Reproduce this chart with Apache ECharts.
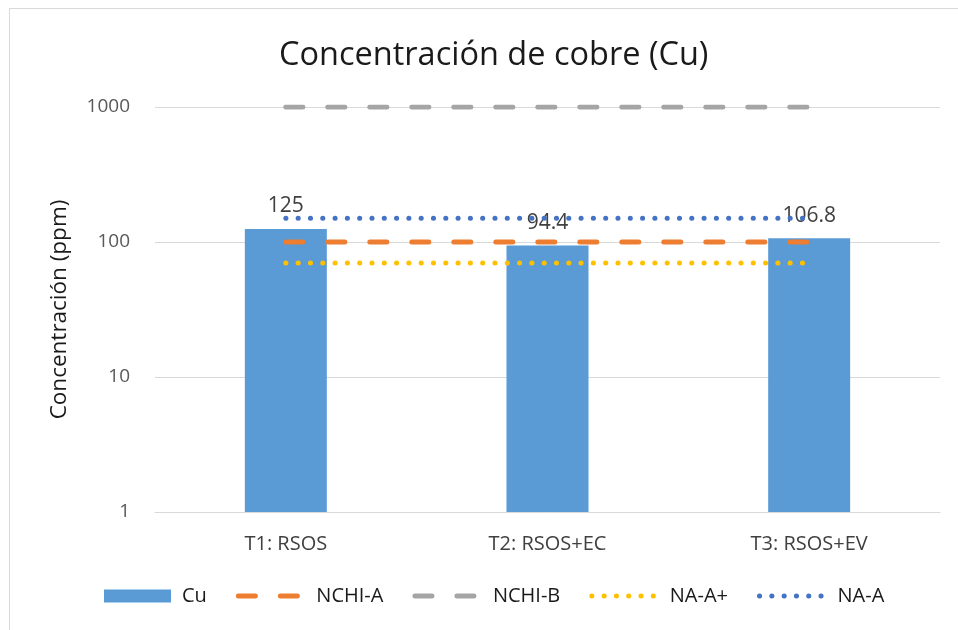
<!DOCTYPE html>
<html>
<head>
<meta charset="utf-8">
<script src="https://cdn.jsdelivr.net/npm/echarts@6/dist/echarts.min.js"></script>
<style>
  html, body { margin: 0; padding: 0; background: #fff; }
  #frame { position: absolute; left: 9px; top: 8px; width: 960px; height: 640px; border: 1px solid #d9d9d9; box-sizing: border-box; }
  #chart { position: absolute; left: 0; top: 0; width: 958px; height: 630px; }
</style>
</head>
<body>
<div id="frame"></div>
<div id="chart"></div>
<script>
// datos del grafico
var categorias = ['T1: RSOS', 'T2: RSOS+EC', 'T3: RSOS+EV']
var cobre = [125, 94.4, 106.8]
var nchiA = [100, 100, 100]
var nchiB = [1000, 1000, 1000]
var naAmas = [70, 70, 70]
var naA = [150, 150, 150]
var ticksY = [1, 10, 100, 1000]

var fuente = '"Open Sans", "Noto Sans", sans-serif'
// en la leyenda solo queremos la linea, sin el circulo
var sinSimbolo = { opacity: 0 }

var chart = echarts.init(document.getElementById('chart'))
chart.setOption({
  animation: false,
  title: {
    text: 'Concentración de cobre (Cu)',
    left: 274,
    top: 34,
    textStyle: { fontFamily: fuente, fontSize: 32.5, fontWeight: 'normal', color: '#1a1a1a' }
  },
  legend: {
    bottom: 19,
    left: 99,
    itemWidth: 67,
    itemHeight: 13,
    itemGap: 29,
    lineStyle: { width: 5 },
    textStyle: { fontFamily: fuente, fontSize: 20, color: '#1a1a1a', padding: [0, 0, 0, 6] },
    data: [
      { name: 'Cu', icon: 'rect' },
      { name: 'NCHI-A', itemStyle: sinSimbolo },
      { name: 'NCHI-B', itemStyle: sinSimbolo },
      { name: 'NA-A+', itemStyle: sinSimbolo },
      { name: 'NA-A', itemStyle: sinSimbolo }
    ]
  },
  grid: { left: 155, right: 18, top: 107, bottom: 118 },
  xAxis: {
    type: 'category',
    data: categorias,
    axisLine: { lineStyle: { color: '#d9d9d9', width: 1 } },
    axisTick: { show: false },
    axisLabel: { fontFamily: fuente, fontSize: 20, color: '#404040', margin: 22 }
  },
  yAxis: {
    type: 'log',
    logBase: 10,
    min: ticksY[0],
    max: ticksY[ticksY.length - 1],
    name: 'Concentración (ppm)',
    nameLocation: 'middle',
    nameGap: 84,
    nameTextStyle: { fontFamily: fuente, fontSize: 22.5, color: '#1a1a1a' },
    axisLine: { show: false },
    axisTick: { show: false },
    splitLine: { lineStyle: { color: '#d9d9d9', width: 1 } },
    axisLabel: {
      fontFamily: fuente,
      fontSize: 19,
      color: '#595959',
      margin: 25,
      formatter: function (v) { return String(v) }
    }
  },
  series: [
    {
      name: 'Cu',
      type: 'bar',
      data: cobre,
      barWidth: 82,
      itemStyle: { color: '#5b9bd5' },
      label: { show: true, position: 'top', fontFamily: fuente, fontSize: 21, color: '#404040', distance: 12 }
    },
    {
      name: 'NCHI-A',
      type: 'line',
      data: nchiA,
      symbol: 'none',
      itemStyle: { color: '#ed7d31' },
      lineStyle: { color: '#ed7d31', width: 5, type: [17, 25], cap: 'round' }
    },
    {
      name: 'NCHI-B',
      type: 'line',
      data: nchiB,
      symbol: 'none',
      itemStyle: { color: '#a5a5a5' },
      lineStyle: { color: '#a5a5a5', width: 5, type: [17, 25], cap: 'round' }
    },
    {
      name: 'NA-A+',
      type: 'line',
      data: naAmas,
      symbol: 'none',
      itemStyle: { color: '#ffc000' },
      lineStyle: { color: '#ffc000', width: 5, type: [0.1, 12.2], cap: 'round' }
    },
    {
      name: 'NA-A',
      type: 'line',
      data: naA,
      symbol: 'none',
      itemStyle: { color: '#4472c4' },
      lineStyle: { color: '#4472c4', width: 5, type: [0.1, 12.2], cap: 'round' }
    }
  ]
})
</script>
</body>
</html>
